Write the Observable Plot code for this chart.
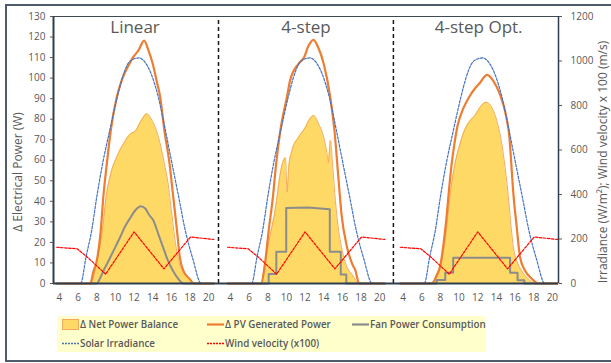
<!DOCTYPE html>
<html><head><meta charset="utf-8">
<script src="https://cdn.jsdelivr.net/npm/d3@7"></script>
<script src="https://cdn.jsdelivr.net/npm/@observablehq/plot@0.6"></script>
<style>
body{margin:0;background:#fff;font-family:"Open Sans",sans-serif;}
#wrap{position:relative;width:611px;height:363px;overflow:hidden;background:#fff;}
#frame{position:absolute;left:5px;top:4px;width:640px;height:354px;border:2px solid #4d5b6a;}
#chart{position:absolute;left:0;top:0;}
#legend{position:absolute;left:57px;top:316px;width:429px;height:36px;background:#FFFFCC;}
.item{position:absolute;display:flex;align-items:center;height:12px;font-size:9.8px;font-weight:600;color:#595959;white-space:nowrap;}
.item svg{margin-right:1px;}
</style></head><body>
<div id="wrap"><div id="frame"></div><div id="chart"></div><div id="legend"></div></div>
<script>
// ---- data (hour of day, value) ----
const panelNames = ["Linear", "4-step", "4-step Opt."];
const hourTicks = [4, 6, 8, 10, 12, 14, 16, 18, 20];
const leftTicks = [0,10,20,30,40,50,60,70,80,90,100,110,120,130];
const rightTicks = [0, 200, 400, 600, 800, 1000, 1200];

// Solar irradiance (W/m2), same for all scenarios
const irradiance = [[3.7,0],[6.27,0],[6.85,120],[7.45,238],[8.0,390],[8.62,538],[9.4,690],[10.19,837],[10.75,925],[11.33,987],[11.9,1008],[12.5,1014],[13.1,998],[13.85,940],[14.6,837],[15.35,690],[16.07,538],[16.8,385],[17.49,238],[18.3,110],[19.2,0],[20.55,0]];
// Wind velocity x100 (m/s)
const wind = [[3.7,163],[5.9,156],[7.0,118],[8.95,42],[12.0,232],[15.2,66],[18.05,209],[20.55,198]];

// Linear
const pvLinear = [[3.7,0],[7.3,0],[7.65,6],[7.95,10],[8.43,26],[8.7,42],[9.07,58],[9.5,74.5],[10.14,90.7],[10.68,99],[11.5,107],[11.9,110.2],[12.47,113.5],[13.08,118.3],[13.5,114],[14.0,107],[14.4,99],[14.8,90.7],[15.25,74.5],[15.8,58.4],[16.2,42],[16.6,25.8],[16.9,12.8],[17.3,6],[18.0,2],[18.4,0],[20.55,0]];
const netLinear = [[3.7,0],[7.4,0],[7.95,9.6],[8.6,25.8],[9.0,42],[9.5,53.5],[10.14,61.6],[10.86,68],[11.65,73],[12.1,74],[12.8,79.6],[13.36,82.6],[13.9,79.6],[14.6,71.5],[15.25,58.4],[15.6,50],[16.04,34],[16.5,17.7],[16.86,9.6],[17.3,5.5],[18.0,2],[18.4,0],[20.55,0]];
const fanLinear = [[3.7,0],[8.0,0],[8.35,2.5],[8.7,6],[9.2,10.5],[9.8,16],[10.5,22.5],[11.0,27.5],[11.6,32],[12.2,36],[12.7,37.6],[13.2,36.5],[13.6,33.5],[14.07,30.7],[14.6,24],[15.1,17.7],[15.6,11.5],[16.2,6],[16.7,2.5],[17.3,0],[20.55,0]];

// 4-step
const pvStep = [[3.7,0],[7.3,0],[7.7,9.6],[8.1,25.8],[8.55,42],[8.9,58.4],[9.35,74.5],[10.05,90.7],[10.4,98.9],[11.3,107],[11.9,110.2],[12.36,115.6],[12.9,118.6],[13.4,115],[14.0,107],[14.7,90.7],[15.15,74.5],[15.6,50],[15.9,34],[16.5,17.7],[17.05,9.6],[17.4,6.3],[17.8,0],[20.55,0]];
const netStep = [[3.7,0],[7.25,0],[7.75,11.2],[8.15,21],[8.95,40.4],[9.22,50],[9.56,58.3],[9.9,61.2],[10.07,44.5],[10.25,56.6],[10.6,64.7],[11.3,71.2],[12.04,76.1],[12.4,79.4],[12.93,81.8],[13.46,77.7],[14.0,71.2],[14.36,63.1],[14.5,59],[14.72,69.6],[14.97,56.6],[15.25,40.4],[15.6,25.8],[15.9,17.7],[16.15,12.8],[16.5,7.9],[17.0,4.7],[17.6,0.6],[17.8,0],[20.55,0]];
const fanStep = [[3.7,0],[8.1,0],[8.1,4.6],[8.92,4.6],[8.92,15.5],[9.98,15.5],[9.98,36.7],[12.3,37],[14.65,36.2],[14.65,15.4],[15.83,15.4],[15.83,4.4],[16.42,4.4],[16.42,0],[20.55,0]];

// 4-step Opt.
const pvOpt = [[3.7,0],[7.05,0],[7.6,4],[8.0,9],[8.3,18],[8.65,32],[8.95,47],[9.2,58],[9.5,68],[9.85,77],[10.43,85],[11.07,90.7],[11.68,94.8],[12.2,97.5],[13.0,101.6],[13.65,98.8],[14.36,92.3],[15.07,81],[15.43,69.6],[15.6,58.3],[15.8,45],[16.17,28],[16.54,12.8],[17.07,6.3],[17.8,2.3],[18.5,0],[20.55,0]];
const netOpt = [[3.7,0],[7.2,0],[7.7,4],[8.15,11.2],[8.5,21],[8.86,35.5],[9.2,48.5],[9.57,58.3],[10.1,68],[10.65,75.3],[11.36,80.2],[11.7,81.8],[12.25,85.8],[12.9,88.3],[13.5,85.8],[14.04,79.4],[14.58,68],[14.93,56.6],[15.29,42],[15.58,27.4],[15.82,17.7],[16.19,11.2],[16.7,6.3],[17.4,2.3],[18.15,0],[20.55,0]];
const fanOpt = [[3.7,0],[7.6,0],[7.6,1.7],[8.52,1.7],[8.52,5.2],[9.37,5.2],[9.37,12.5],[15.47,12.5],[15.47,5.2],[16.27,5.2],[16.27,1.6],[17.0,1.6],[17.0,0],[20.55,0]];

// ---- layout helpers ----
const panelOffsets = [0, 18.33, 36.84];   // where each panel's hour axis starts on the shared x scale
const separators = [21.05, 39.8];
const k = 130 / 1200;                     // secondary axis -> primary axis

const pvs = [pvLinear, pvStep, pvOpt];
const nets = [netLinear, netStep, netOpt];
const fans = [fanLinear, fanStep, fanOpt];

function rows(arr, p) { return arr.map(([h, v]) => ({panel: p, x: h + panelOffsets[p], v})); }
const pvRows = [], netRows = [], fanSmooth = [], fanSteps = [], irrRows = [], windRows = [];
for (let p = 0; p < 3; p++) {
  pvRows.push(...rows(pvs[p], p));
  netRows.push(...rows(nets[p], p));
  (p === 0 ? fanSmooth : fanSteps).push(...rows(fans[p], p));
  irrRows.push(...rows(irradiance, p));
  windRows.push(...rows(wind, p));
}
const xTicks = panelOffsets.flatMap(o => hourTicks.map(h => h + o));
function tickLabel(v) {
  const p = v < panelOffsets[1] + 2 ? 0 : v < panelOffsets[2] + 2 ? 1 : 2;
  return String(Math.round(v - panelOffsets[p]));
}
const xMin = 3.36, xMax = 57.5;
const axisColor = "#2f3e4e";

const chart = Plot.plot({
  width: 611, height: 310,
  marginLeft: 53, marginRight: 53, marginTop: 16, marginBottom: 27,
  style: {fontFamily: "Open Sans", fontSize: "10px", color: "#595959", background: "transparent", overflow: "visible"},
  x: {domain: [xMin, xMax], axis: null},
  y: {domain: [0, 130], axis: null},
  marks: [
    Plot.areaY(netRows, {x: "x", y: "v", z: "panel", fill: "#FFD966", curve: "monotone-x"}),
    Plot.lineY(netRows, {x: "x", y: "v", z: "panel", stroke: "#F4A95E", strokeWidth: 1, curve: "monotone-x"}),
    Plot.lineY(fanSmooth, {x: "x", y: "v", z: "panel", stroke: "#8C8C8C", strokeWidth: 2, curve: "monotone-x"}),
    Plot.lineY(fanSteps, {x: "x", y: "v", z: "panel", stroke: "#8C8C8C", strokeWidth: 2, curve: "linear"}),
    Plot.lineY(pvRows, {x: "x", y: "v", z: "panel", stroke: "#ED7D31", strokeWidth: 2.2, curve: "monotone-x"}),
    Plot.lineY(irrRows, {x: "x", y: d => d.v * k, z: "panel", stroke: "#4472C4", strokeWidth: 1.2, strokeDasharray: "2.5,1.5", curve: "monotone-x"}),
    Plot.lineY(windRows, {x: "x", y: d => d.v * k, z: "panel", stroke: "#FF0000", strokeWidth: 1.2, strokeDasharray: "2.5,1.5", curve: "linear"}),
    Plot.ruleX(separators, {y1: 0, y2: 130, stroke: "#1a1a1a", strokeWidth: 1.5, strokeDasharray: "4,3"}),
    Plot.ruleY([130], {stroke: "#404a55", strokeWidth: 1}),
    Plot.ruleY([0], {stroke: axisColor, strokeWidth: 2}),
    Plot.ruleX([xMin], {stroke: axisColor, strokeWidth: 2}),
    Plot.ruleX([xMax], {stroke: axisColor, strokeWidth: 1.5}),
    Plot.axisY(leftTicks, {anchor: "left", tickSize: 3, tickPadding: 5, label: null}),
    Plot.axisY(rightTicks.map(v => v * k), {anchor: "right", tickSize: 3, tickPadding: 9, tickFormat: v => String(Math.round(v / k)), textAnchor: "start", label: null}),
    Plot.axisX(xTicks, {tickSize: 0, tickPadding: 10, tickFormat: tickLabel, label: null}),
    Plot.text(panelNames, {x: (d, i) => panelOffsets[i] + 12.1, y: 124.6, fontSize: 17, fill: "#595959"}),
    Plot.text(["Δ Electrical Power (W)"], {frameAnchor: "left", textAnchor: "middle", dx: -35, dy: 22, rotate: -90, fontSize: 12, fill: "#595959"}),
    Plot.text(["Irradiance (W/m²); Wind velocity x 100 (m/s)"], {frameAnchor: "right", textAnchor: "middle", dx: 45, dy: 12, rotate: -90, fontSize: 12, fill: "#595959"})
  ]
});
document.getElementById("chart").appendChild(chart);

// ---- legend ----
const legendItems = [
  {label: "Δ Net Power Balance", kind: "area", color: "#FFD966", left: 5, top: 2},
  {label: "Δ PV Generated Power", kind: "line", color: "#ED7D31", left: 150, top: 2},
  {label: "Fan Power Consumption", kind: "line", color: "#8C8C8C", left: 295, top: 2},
  {label: "Solar Irradiance", kind: "dash", color: "#4472C4", left: 5, top: 21},
  {label: "Wind velocity (x100)", kind: "dash", color: "#FF0000", left: 150, top: 21}
];
const legend = document.getElementById("legend");
for (const it of legendItems) {
  const div = document.createElement("div");
  div.className = "item";
  div.style.left = it.left + "px";
  div.style.top = it.top + "px";
  let sw;
  if (it.kind === "area") sw = `<svg width="17" height="11"><rect x="0.5" y="0.5" width="16" height="10" fill="${it.color}" stroke="#F4A95E"/></svg>`;
  else if (it.kind === "line") sw = `<svg width="17" height="11"><line x1="0" x2="17" y1="5.5" y2="5.5" stroke="${it.color}" stroke-width="2.2"/></svg>`;
  else sw = `<svg width="17" height="11"><line x1="0" x2="17" y1="5.5" y2="5.5" stroke="${it.color}" stroke-width="1.3" stroke-dasharray="2,1"/></svg>`;
  div.innerHTML = sw + `<span>${it.label}</span>`;
  legend.appendChild(div);
}
</script>
</body></html>
